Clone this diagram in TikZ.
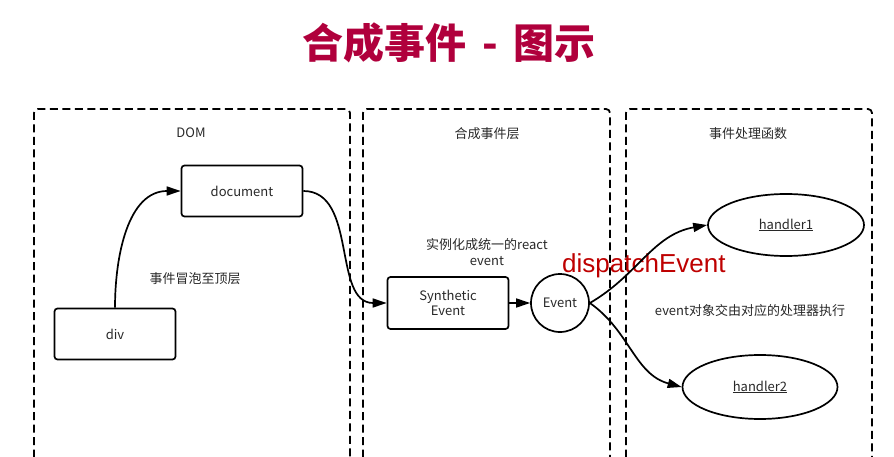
\documentclass[tikz,border=0pt]{standalone}
\usepackage{fontspec}
\setmainfont{Noto Sans CJK SC}
\newfontfamily\arialfont{Liberation Sans}
\usetikzlibrary{arrows.meta,shapes.geometric}
\definecolor{TitleRed}{RGB}{176,0,60}
\definecolor{DispatchRed}{RGB}{190,0,0}
\definecolor{TextGray}{RGB}{40,40,40}

\begin{document}
\begin{tikzpicture}[x=1pt,y=1pt]
		\useasboundingbox (0,0) rectangle (894,-457);
		\tikzset{LayerStyle/.style = {draw, line width=1.8pt, dash pattern=on 8pt off 4.5pt, rounded corners=4pt},
			BoxStyle/.style = {draw, line width=1.7pt, rounded corners=3pt, minimum width=121pt, minimum height=51pt, inner sep=0pt, font=\fontsize{13}{15}\selectfont, text=TextGray, align=center},
			EllipseStyle/.style = {draw, ellipse, line width=1.7pt, inner sep=0pt, font=\fontsize{13}{15}\selectfont, text=TextGray},
			TextStyle/.style = {font=\fontsize{13}{16}\selectfont, text=TextGray, align=center},
			EdgeStyle/.style = {line width=1.7pt, -{Triangle[length=14pt,width=9pt]}}}
		% title
		\node[font=\fontsize{41}{45}\selectfont\bfseries, text=TitleRed] (title) at (449,-43) {合成事件\hspace{6pt} - \hspace{6pt}图示};
		% layers
		\draw[LayerStyle] (34,-470) |- (350,-109) -- (350,-470);
		\draw[LayerStyle] (363,-470) |- (610,-109) -- (610,-470);
		\draw[LayerStyle] (626,-470) |- (872,-109) -- (872,-470);
		\node[TextStyle] (dom) at (191,-133) {DOM};
		\node[TextStyle] (layer) at (487,-134) {合成事件层};
		\node[TextStyle] (funcs) at (748,-134) {事件处理函数};
		% DOM
		\node[BoxStyle] (document) at (242,-191) {document};
		\node[BoxStyle] (div) at (115,-334) {div};
		\node[TextStyle] (bubble) at (195,-279) {事件冒泡至顶层};
		% synthetic layer
		\node[BoxStyle, minimum height=52pt] (synthetic) at (448,-303) {Synthetic\\Event};
		\node[draw, circle, line width=1.7pt, minimum size=58pt, inner sep=0pt, font=\fontsize{13}{15}\selectfont, text=TextGray] (event) at (560,-303) {Event};
		\node[TextStyle] (unify) at (487,-252) {实例化成统一的react\\event};
		\node[anchor=base west, font=\arialfont\fontsize{26}{30}\selectfont, text=DispatchRed, inner sep=0pt] (dispatch) at (562,-272) {dispatchEvent};
		% handlers
		\node[EllipseStyle, minimum width=156pt, minimum height=62pt] (handler1) at (786,-225) {\underline{handler1}};
		\node[EllipseStyle, minimum width=155pt, minimum height=64pt] (handler2) at (760,-387) {\underline{handler2}};
		\node[TextStyle] (exec) at (750,-311) {event对象交由对应的处理器执行};
		% edges
		\draw[EdgeStyle] (div.north) to[out=90, in=180] (document.west);
		\draw[EdgeStyle] (document.east) to[out=0, in=180] (synthetic.west);
		\draw[EdgeStyle] (synthetic) -- (event);
		\draw[EdgeStyle] (event.east) to[out=30, in=190] (handler1.west);
		\draw[EdgeStyle] (event.east) to[out=-35, in=165] (handler2.west);
\end{tikzpicture}
\end{document}
